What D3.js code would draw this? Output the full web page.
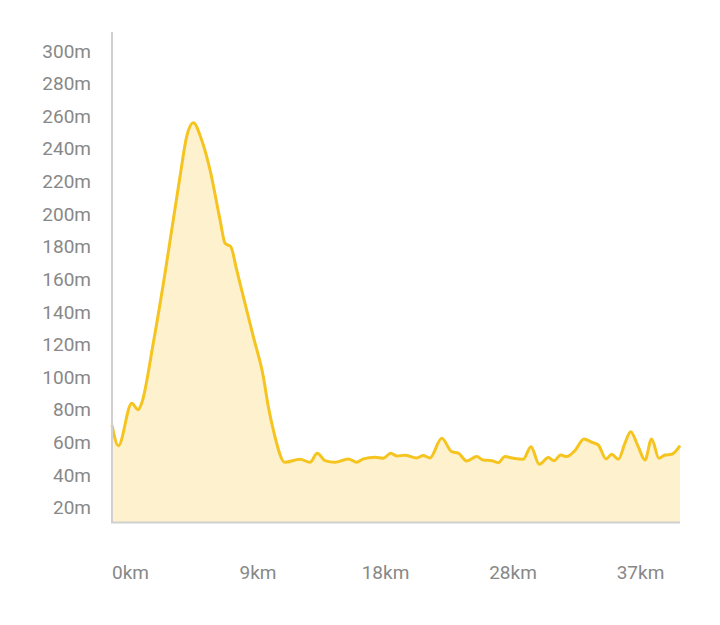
<!DOCTYPE html>
<html>
<head>
<meta charset="utf-8">
<script src="https://cdn.jsdelivr.net/npm/d3@7"></script>
<style>
  body { margin: 0; background: #fff; }
  text { font-family: Roboto, "Noto Sans", sans-serif; }
</style>
</head>
<body>
<div id="chart"></div>
<script>
// Elevation profile, distance in km / altitude in m
const distKm = [0, 0.47, 1.46, 1.94, 2.2, 3.05, 3.92, 4.53, 5.03, 5.52, 6.01, 6.63, 7.25, 7.99, 8.36, 8.78,
  9.22, 9.71, 10.45, 11.19, 11.56, 11.93, 12.79, 13.9, 14.64, 15.18, 15.75, 16.49, 17.47, 18.09, 18.58,
  19.45, 20.06, 20.61, 21.05, 21.67, 22.53, 23.02, 23.51, 24.38, 25.12, 25.61, 26.23, 26.97, 27.45, 28.08,
  28.56, 29.06, 29.67, 30.41, 30.98, 31.59, 32.26, 32.68, 33.18, 33.62, 34.23, 34.9, 35.47, 35.96, 36.53,
  36.95, 37.44, 37.93, 38.35, 38.91, 39.41, 39.9, 40.44, 40.89, 41.38, 42];
const altM = [70.7, 58, 84, 80, 84.2, 120.8, 163.7, 196.4, 223, 247.5, 256, 245.4, 227, 196.4, 182.1, 180,
  165.7, 149.4, 124.8, 100.3, 81.9, 67.6, 47.8, 49.7, 47.8, 53.4, 48.8, 47.8, 49.9, 47.8, 49.9,
  50.9, 50.3, 53.4, 51.7, 52.1, 50.5, 51.9, 50.5, 62.5, 54.3, 53.4, 48.6, 51.3, 49.2, 48.8,
  47.6, 51.3, 50.3, 49.7, 57.4, 46.6, 50.7, 48.8, 52.3, 51.3, 55, 62.1, 60.1, 58.4, 49.9,
  52.7, 49.7, 59.5, 66.6, 57.4, 49.2, 62.1, 50.3, 52.3, 52.7, 58];
const yTicks = [20, 40, 60, 80, 100, 120, 140, 160, 180, 200, 220, 240, 260, 280, 300];
const xLabels = ["0km", "9km", "18km", "28km", "37km"];

const W = 720, H = 625;
const plotL = 112, plotR = 680, plotT = 32, plotB = 522.5;

const svg = d3.select("#chart").append("svg").attr("width", W).attr("height", H);

const x = d3.scaleLinear().domain([0, 42]).range([plotL, plotR]);
const y = d3.scaleLinear().domain([10.9, 311.6]).range([plotB, plotT]);
const xLab = d3.scalePoint().domain(xLabels).range([130.5, 640.5]);

const data = distKm.map((d, i) => ({ d: d, a: altM[i] }));

// Area fill
const area = d3.area().curve(d3.curveMonotoneX)
  .x(p => x(p.d)).y0(plotB).y1(p => y(p.a));
svg.append("path").datum(data).attr("d", area).attr("fill", "#fef1ce");

// Line
const line = d3.line().curve(d3.curveMonotoneX)
  .x(p => x(p.d)).y(p => y(p.a));
svg.append("path").datum(data).attr("d", line)
  .attr("fill", "none").attr("stroke", "#f5c41f").attr("stroke-width", 3)
  .attr("stroke-linejoin", "round");

// Axis lines
svg.append("line").attr("x1", plotL).attr("x2", plotL).attr("y1", plotT).attr("y2", plotB)
  .attr("stroke", "#d0d0d0").attr("stroke-width", 2);
svg.append("line").attr("x1", plotL - 1).attr("x2", plotR).attr("y1", plotB).attr("y2", plotB)
  .attr("stroke", "#d0d0d0").attr("stroke-width", 2);

// Y labels
svg.selectAll(".ylab").data(yTicks).enter().append("text")
  .attr("x", 91).attr("y", d => y(d)).attr("dy", "0.35em")
  .attr("text-anchor", "end").attr("font-size", 19).attr("fill", "#888")
  .text(d => d + "m");

// X labels
svg.selectAll(".xlab").data(xLabels).enter().append("text")
  .attr("x", d => xLab(d)).attr("y", 579)
  .attr("text-anchor", "middle").attr("font-size", 19).attr("fill", "#888")
  .text(d => d);
</script>
</body>
</html>
